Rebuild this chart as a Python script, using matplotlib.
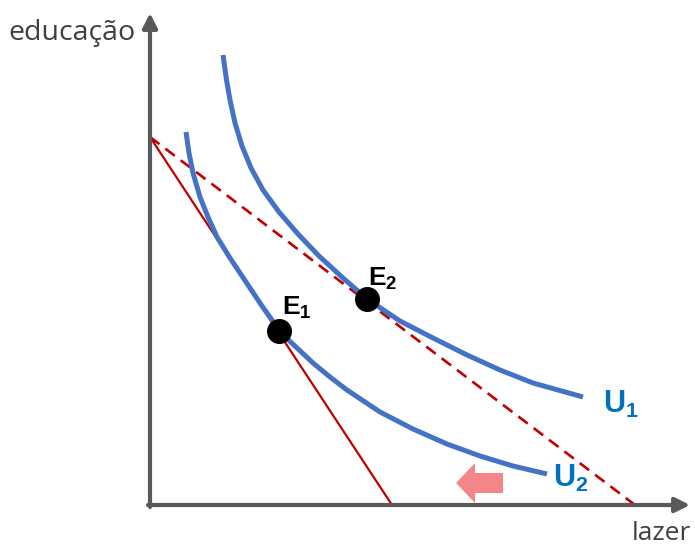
import matplotlib.pyplot as plt

plt.rcParams['mathtext.fontset'] = 'custom'
plt.rcParams['mathtext.bf'] = 'Liberation Sans:bold'
plt.rcParams['mathtext.rm'] = 'Liberation Sans:bold'

# indifference curves (lazer, educação)
u1_x = [73, 76.5, 80, 85, 92, 101, 113, 129, 148, 169, 193, 217, 250, 283, 317, 350, 383, 433]
u1_y = [450, 425, 405, 382, 359, 337, 315, 293, 271, 249, 227, 206, 184, 167, 150, 135, 122, 108]
u2_x = [36, 39, 43, 50, 58, 67, 80, 96, 112, 122, 129, 146, 163, 180, 197, 230, 263, 297, 330, 363, 397]
u2_y = [373, 352, 332, 308, 288, 268, 247, 223, 199, 185, 174, 158, 142, 128, 115, 93, 76, 61, 49, 39, 31]

# budget lines: y intercept and x intercepts
renda = 368
lazer_max_1 = 242
lazer_max_2 = 485

# equilibrium points
e_x = [129, 217]
e_y = [174, 206]
e_labels = [r'$\mathbf{E_1}$', r'$\mathbf{E_2}$']

azul = '#4472C4'
vermelho = '#C00000'
cinza = '#595959'

fig = plt.figure(figsize=(6.95, 5.45), dpi=100)
ax = fig.add_axes([0, 0, 1, 1])
ax.set_xlim(-150, 545)
ax.set_ylim(-40, 505)
ax.axis('off')

# axes with arrows
ax.annotate('', xy=(0, 492), xytext=(0, -2),
            arrowprops=dict(arrowstyle='-|>', lw=3, color=cinza, mutation_scale=22,
                            shrinkA=0, shrinkB=0))
ax.annotate('', xy=(540, 0), xytext=(-2, 0),
            arrowprops=dict(arrowstyle='-|>', lw=3, color=cinza, mutation_scale=22,
                            shrinkA=0, shrinkB=0))

# budget lines
ax.plot([0, lazer_max_1], [renda, 0], color=vermelho, lw=1.6, solid_capstyle='butt')
ax.plot([0, lazer_max_2], [renda, 0], color=vermelho, lw=1.9, dashes=(4.5, 2.8))

# indifference curves
ax.plot(u1_x, u1_y, color=azul, lw=3.6, solid_joinstyle='round', solid_capstyle='butt')
ax.plot(u2_x, u2_y, color=azul, lw=3.6, solid_joinstyle='round', solid_capstyle='butt')

# points
ax.plot(e_x, e_y, 'o', color='black', ms=17, zorder=5)
ax.text(e_x[0] + 3, e_y[0] + 16, e_labels[0], fontsize=19, color='black')
ax.text(e_x[1] + 1, e_y[1] + 13, e_labels[1], fontsize=19, color='black')

ax.text(453, 92, r'$\mathbf{U_1}$', fontsize=22, color='#0070C0')
ax.text(403, 18, r'$\mathbf{U_2}$', fontsize=22, color='#0070C0')

# pink shift arrow
ax.arrow(353, 22, -28, 0, width=20, head_width=40, head_length=19,
         length_includes_head=False, color='#F4868A', lw=0)

ax.text(-142, 472, 'educação', fontsize=20.5, family='Open Sans', color='#404040',
        va='center', ha='left')
ax.text(482, -29, 'lazer', fontsize=19, family='Open Sans', color='#404040',
        va='center', ha='left')

fig.savefig('out.png', dpi=100)
